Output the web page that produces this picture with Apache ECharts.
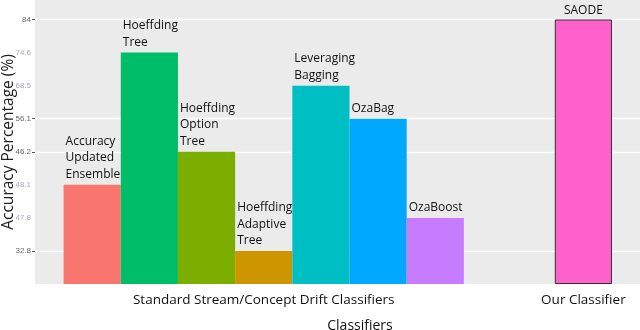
<!DOCTYPE html>
<html>
<head>
<meta charset="utf-8">
<script src="https://cdn.jsdelivr.net/npm/echarts@6/dist/echarts.min.js"></script>
<style>
  html, body { margin: 0; padding: 0; background: #fff; }
  #chart { width: 640px; height: 330px; }
</style>
</head>
<body>
<div id="chart"></div>
<script>
// data
var classifiers = ['Accuracy\nUpdated\nEnsemble', 'Hoeffding\nTree', 'Hoeffding\nOption\nTree',
  'Hoeffding\nAdaptive\nTree', 'Leveraging\nBagging', 'OzaBag', 'OzaBoost', 'SAODE'];
var groups = ['Standard Stream/Concept Drift Classifiers', 'Standard Stream/Concept Drift Classifiers',
  'Standard Stream/Concept Drift Classifiers', 'Standard Stream/Concept Drift Classifiers',
  'Standard Stream/Concept Drift Classifiers', 'Standard Stream/Concept Drift Classifiers',
  'Standard Stream/Concept Drift Classifiers', 'Our Classifier'];
var accuracy = ['48.1', '74.6', '46.2', '32.8', '68.5', '56.1', '47.8', '84'];
// y tick labels as printed, bottom to top (the axis is not linear in the source)
var yTickLabels = ['32.8', '47.8', '48.1', '46.2', '56.1', '68.5', '74.6', '84'];
var yMajorLabels = ['32.8', '46.2', '56.1', '84'];
var groupNames = ['Standard Stream/Concept Drift Classifiers', 'Our Classifier'];

// layout (x axis counted in bar widths)
var groupCenters = [4, 9.59];
var xMax = 10.58;
var colors = ['#F8766D', '#00BE67', '#7CAE00', '#CD9600', '#00BFC4', '#00A9FF', '#C77CFF', '#FF61CC'];

// each bar stands at the tick that carries its label
function level(v) { return yTickLabels.indexOf(v) + 1; }

var counts = {}, seen = {};
groups.forEach(function (g) { counts[g] = (counts[g] || 0) + 1; });

var barData = classifiers.map(function (name, i) {
  var g = groups[i];
  var k = seen[g] || 0;
  seen[g] = k + 1;
  var x = groupCenters[groupNames.indexOf(g)] + k - (counts[g] - 1) / 2;
  var single = counts[g] === 1;
  return {
    value: [x, level(accuracy[i])],
    name: name,
    itemStyle: single ? { color: colors[i], borderColor: '#333', borderWidth: 1 } : { color: colors[i] },
    label: single ? { position: 'top', align: 'center', distance: 1 } : {}
  };
});

var majorLevels = yMajorLabels.map(level);
var allLevels = yTickLabels.map(function (t, i) { return i + 1; });

var chart = echarts.init(document.getElementById('chart'));
chart.setOption({
  animation: false,
  grid: {
    left: 35, right: 0, top: 0, bottom: 46, outerBoundsMode: 'none', containLabel: false,
    show: true, backgroundColor: '#EBEBEB', borderWidth: 0
  },
  xAxis: {
    type: 'value', min: 0, max: xMax,
    axisLine: { show: false }, axisTick: { show: false }, splitLine: { show: false },
    axisLabel: {
      customValues: groupCenters,
      formatter: function (v) {
        var best = 0;
        groupCenters.forEach(function (c, i) { if (Math.abs(c - v) < Math.abs(groupCenters[best] - v)) best = i; });
        return groupNames[best];
      },
      color: '#111', fontFamily: 'Open Sans', fontSize: 13.5, margin: 9
    },
    name: 'Classifiers', nameLocation: 'middle', nameGap: 35, nameMoveOverlap: false,
    nameTextStyle: { color: '#111', fontFamily: 'Open Sans', fontSize: 14, padding: [0, 0, 0, 45] }
  },
  yAxis: {
    type: 'value', min: 0, max: 8.59,
    name: 'Accuracy Percentage (%)', nameLocation: 'middle', nameGap: 18, nameMoveOverlap: false,
    nameTextStyle: { color: '#222', fontFamily: 'Open Sans', fontSize: 15.5 },
    axisLine: { show: false }, splitLine: { show: false },
    axisTick: { show: true, customValues: majorLevels, length: 3, lineStyle: { color: '#555' } },
    axisLabel: {
      customValues: allLevels, margin: 4,
      formatter: function (v) {
        var t = yTickLabels[Math.round(v) - 1];
        return yMajorLabels.indexOf(t) >= 0 ? '{a|' + t + '}' : '{b|' + t + '}';
      },
      rich: {
        a: { color: '#666', fontSize: 8, fontFamily: 'Liberation Sans' },
        b: { color: '#aab', fontSize: 8, fontFamily: 'Liberation Sans' }
      }
    }
  },
  series: [
    {
      type: 'line', data: [], silent: true,
      markLine: {
        z: 1, silent: true, symbol: 'none', label: { show: false },
        lineStyle: { color: '#fff', width: 1.3, type: 'solid' },
        data: majorLevels.map(function (l) { return { yAxis: l }; })
      }
    },
    {
      type: 'bar', z: 2, barWidth: '100%', data: barData,
      label: {
        show: true, position: [2, -2], align: 'left', verticalAlign: 'bottom',
        formatter: '{b}', color: '#111', fontFamily: 'Open Sans', fontSize: 12, lineHeight: 16.5
      }
    }
  ]
});
</script>
</body>
</html>
